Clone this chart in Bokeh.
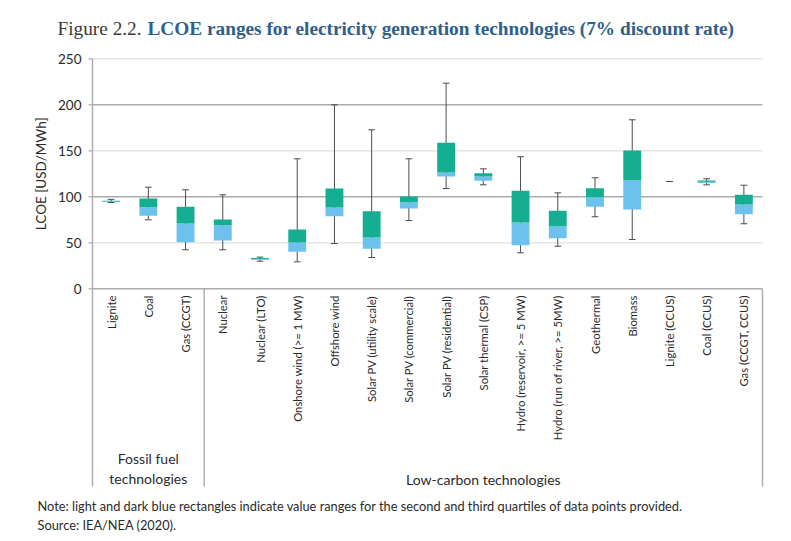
import numpy as np
from bokeh.plotting import figure
from bokeh.models import Range1d, ColumnDataSource
from bokeh.core.properties import value
from bokeh.embed import file_html
from bokeh.resources import INLINE

# LCOE ranges (USD/MWh, 7% discount rate)
categories = [
    "Lignite", "Coal", "Gas (CCGT)", "Nuclear", "Nuclear (LTO)",
    "Onshore wind (>= 1 MW)", "Offshore wind", "Solar PV (utility scale)",
    "Solar PV (commercial)", "Solar PV (residential)", "Solar thermal (CSP)",
    "Hydro (reservoir, >= 5 MW)", "Hydro (run of river, >= 5MW)", "Geothermal",
    "Biomass", "Lignite (CCUS)", "Coal (CCUS)", "Gas (CCGT, CCUS)",
]
lows = [93.8, 75.0, 42.4, 42.4, 30.0, 29.3, 49.2, 34.0, 74.2, 109.0, 113.0, 39.1, 46.3, 78.3, 53.6, 116.6, 113.0, 70.7]
q1s = [94.3, 79.3, 50.7, 52.5, 31.5, 40.2, 78.9, 43.5, 87.3, 122.0, 117.4, 47.4, 55.0, 89.1, 86.2, 116.6, 115.0, 81.1]
medians = [95.0, 88.7, 71.0, 69.1, 32.5, 50.3, 88.4, 55.8, 94.1, 126.4, 122.0, 72.0, 68.0, 99.6, 118.0, 116.6, 116.3, 91.6]
q3s = [95.8, 98.1, 89.1, 75.3, 33.5, 64.5, 109.0, 84.4, 100.3, 158.7, 125.7, 106.5, 84.8, 109.3, 150.3, 116.6, 117.7, 102.2]
highs = [97.2, 110.4, 107.6, 102.2, 34.4, 141.3, 200.0, 172.8, 141.3, 223.5, 130.4, 143.5, 104.3, 120.7, 183.7, 116.6, 119.6, 112.6]

groups = ["Fossil fuel\ntechnologies", "Low-carbon technologies"]
group_sizes = [3, 15]
y_ticks = [0, 50, 100, 150, 200, 250]
y_label = "LCOE [USD/MWh]"

TITLE_LEAD = "Figure 2.2."
TITLE_MAIN = "LCOE ranges for electricity generation technologies (7% discount rate)"
NOTE = ("Note: light and dark blue rectangles indicate value ranges for the second "
        "and third quartiles of data points provided.")
SOURCE = "Source: IEA/NEA (2020)."

# colours and fonts
TEAL = "#15ae92"
LIGHT = "#6cc2ec"
WHISKER = "#4d4d4d"
GRID_DARK = "#ababab"
GRID_LIGHT = "#e1e1e1"
TEXT = "#2b2b2b"
TITLE_BLUE = "#2f5f8a"
SANS = value("Lato")
SERIF = value("Liberation Serif")

# canvas geometry: the data frame fills the whole page, with the plotting
# area starting at pixel (92, 58) and the zero line at pixel row 288
W, H = 791, 541
AX_LEFT, AX_RIGHT = 92, 762
Y0_PX, PX_PER_Y = 288.3, 0.92
n = len(categories)
PX_PER_X = (AX_RIGHT - AX_LEFT) / n


def dx(px):
    return (px - AX_LEFT) / PX_PER_X


def dy(py):
    return (Y0_PX - py) / PX_PER_Y


xs = np.arange(n) + 0.5
src = ColumnDataSource(dict(x=xs, lo=lows, q1=q1s, med=medians, q3=q3s, hi=highs, name=categories))

p = figure(width=W, height=H, output_backend="svg", toolbar_location=None,
           x_range=Range1d(dx(0), dx(W)), y_range=Range1d(dy(H), dy(0)),
           x_axis_type=None, y_axis_type=None, min_border=0,
           outline_line_color=None, background_fill_color="white",
           border_fill_color="white")
p.grid.visible = False

# horizontal gridlines: 100 and 200 darker, the rest light
light_vals = [t for t in y_ticks if t % 100 != 0]
dark_vals = [t for t in y_ticks if t % 100 == 0]
p.segment(x0=0, x1=n, y0=light_vals, y1=light_vals, line_color=GRID_LIGHT, line_width=1.3)
p.segment(x0=0, x1=n, y0=dark_vals, y1=dark_vals, line_color=GRID_DARK, line_width=1.4)

# y axis: tick marks and labels
p.segment(x0=dx(AX_LEFT - 4), x1=0, y0=y_ticks, y1=y_ticks, line_color=GRID_DARK, line_width=1.2)
p.text(x=dx(81), y=y_ticks, text=[str(t) for t in y_ticks], text_align="right",
       text_baseline="middle", text_font=SANS, text_font_size="13.5px", text_color=TEXT)
p.text(x=dx(40), y=np.mean([y_ticks[0], y_ticks[-1]]), text=[y_label], angle=np.pi / 2,
       text_align="center", text_baseline="middle", text_font=SANS,
       text_font_size="13.5px", text_color=TEXT)

# frame lines: left axis, group separator and right edge of the label box
box_bottom = dy(486)
sep_x = float(np.cumsum(group_sizes)[0])
p.segment(x0=[0, sep_x, n], x1=[0, sep_x, n], y0=[y_ticks[-1], 0, 0],
          y1=[box_bottom] * 3, line_color=GRID_DARK, line_width=1.4)

# whiskers with caps
cap = 0.09
p.segment(x0="x", x1="x", y0="lo", y1="hi", source=src, line_color=WHISKER, line_width=1)
p.segment(x0=xs - cap, x1=xs + cap, y0=lows, y1=lows, line_color=WHISKER, line_width=1)
p.segment(x0=xs - cap, x1=xs + cap, y0=highs, y1=highs, line_color=WHISKER, line_width=1)

# second quartile (light) and third quartile (dark) boxes
bw = 0.48
p.vbar(x="x", width=bw, bottom="q1", top="med", source=src, fill_color=LIGHT, line_color=None)
p.vbar(x="x", width=bw, bottom="med", top="q3", source=src, fill_color=TEAL, line_color=None)

# rotated category labels
p.text(x="x", y=dy(295), text="name", source=src, angle=np.pi / 2,
       text_align="right", text_baseline="middle", text_font=SANS,
       text_font_size="11.3px", text_color=TEXT)

# group labels
edges = np.concatenate([[0], np.cumsum(group_sizes)])
gx = (edges[:-1] + edges[1:]) / 2
p.text(x=gx, y=dy(487), text=groups, text_align="center", text_baseline="bottom",
       text_font=SANS, text_font_size="14px", text_color=TEXT, text_line_height=1.2)

# title in two colours
p.text(x=dx(57), y=dy(28), text=[TITLE_LEAD], text_align="left", text_baseline="middle",
       text_font=SERIF, text_font_size="19.3px", text_color="#3a3a3a")
p.text(x=dx(147), y=dy(28), text=[TITLE_MAIN], text_align="left", text_baseline="middle",
       text_font=SERIF, text_font_size="19.3px", text_font_style="bold", text_color=TITLE_BLUE)

# footnotes
p.text(x=dx(37), y=[dy(505), dy(524)], text=[NOTE, SOURCE], text_align="left",
       text_baseline="middle", text_font=SANS, text_font_size="12.8px", text_color=TEXT)

open("out.html", "w").write(file_html(p, INLINE))
